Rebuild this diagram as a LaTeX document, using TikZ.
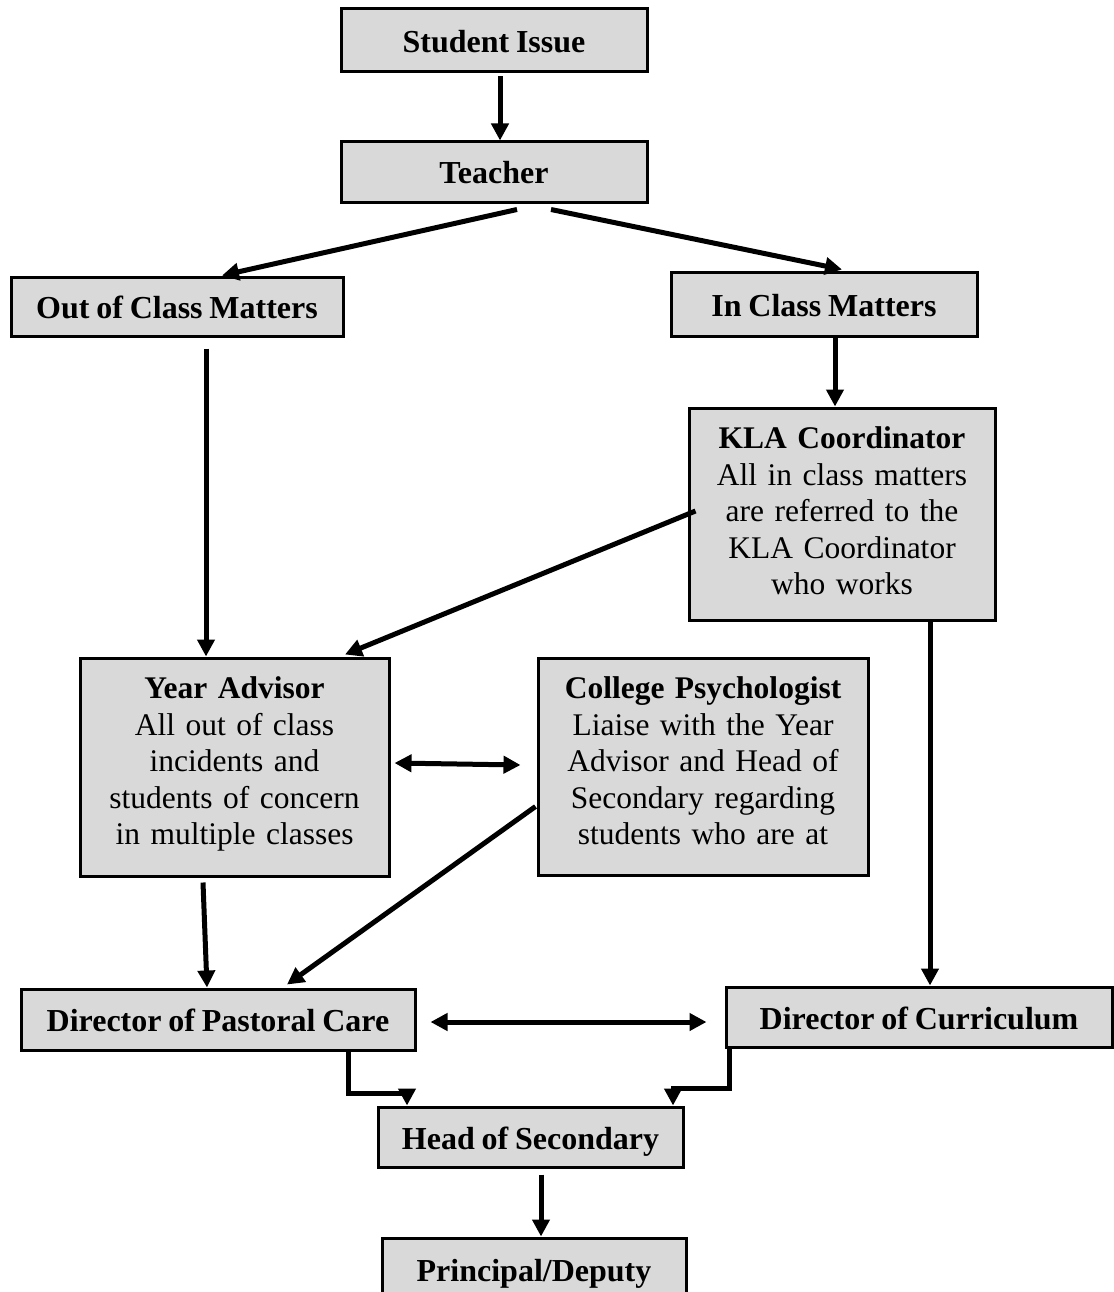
\documentclass[tikz,border=0pt]{standalone}
\usepackage{fontspec}
\setmainfont{Liberation Serif}[WordSpace=0.85]
\usetikzlibrary{arrows.meta,calc}
\definecolor{boxgray}{RGB}{217,217,217}
\tikzset{
  box/.style={draw=black, fill=boxgray, line width=3pt, inner sep=0pt, align=center,
    font=\fontsize{32}{36.5}\selectfont\bfseries, text height=24pt, text depth=0pt},
  bigbox/.style={draw=black, fill=boxgray, line width=3pt, inner sep=0pt},
  boxtext/.style={inner sep=0pt, align=center, anchor=north, text width=#1,
    font=\fontsize{31.5}{36.5}\selectfont},
  arr/.style={line width=5pt, line join=miter, -{Triangle[length=17pt,width=17pt]}},
  darr/.style={line width=5pt, {Triangle[length=17pt,width=17pt]}-{Triangle[length=17pt,width=17pt]}}
}
\begin{document}
\begin{tikzpicture}[x=1pt,y=-1pt]
\useasboundingbox[fill=white] (0,0) rectangle (1113,1292);
% single-line boxes
\node[box, minimum width=306pt, minimum height=63pt] (SI) at (494,40.5) {Student Issue};
\node[box, minimum width=306pt, minimum height=60pt] (T) at (494,172) {Teacher};
\node[box, minimum width=332pt, minimum height=59pt] (Out) at (177,306.5) {Out of Class Matters};
\node[box, minimum width=306pt, minimum height=64pt] (In) at (824,304) {In Class Matters};
\node[box, minimum width=394pt, minimum height=61pt] (DPC) at (218,1019.5) {Director of Pastoral Care};
\node[box, minimum width=386pt, minimum height=60pt] (DC) at (919,1017) {Director of Curriculum};
\node[box, minimum width=305pt, minimum height=60pt] (HoS) at (530.5,1137) {Head of Secondary};
\node[box, minimum width=304pt, minimum height=62pt] (PD) at (534,1269) {Principal/Deputy};
% multi-line boxes
\node[bigbox, minimum width=306pt, minimum height=212pt] (KLA) at (842,514) {};
\node[boxtext=300pt] (KLAt) at ($(KLA.north)+(0,20)$) {\textbf{KLA Coordinator}\\All in class matters\\are referred to the\\KLA Coordinator\\who works};
\node[bigbox, minimum width=309pt, minimum height=218pt] (YA) at (234.5,767) {};
\node[boxtext=305pt] (YAt) at ($(YA.north)+(0,20)$) {\textbf{Year Advisor}\\All out of class\\incidents and\\students of concern\\in multiple classes};
\node[bigbox, minimum width=330pt, minimum height=217pt] (Ps) at (703,766.5) {};
\node[boxtext=325pt] (Pst) at ($(Ps.north)+(0,20)$) {\textbf{College Psychologist}\\Liaise with the Year\\Advisor and Head of\\Secondary regarding\\students who are at};
% connectors
\draw[arr] ($(SI.south)+(6,3)$) -- ($(T.north)+(6,0)$);
\draw[arr] ($(T.south)+(23,6)$) -- ($(Out.north)+(45,0)$);
\draw[arr] ($(T.south)+(57,6)$) -- ($(In.north)+(18,-1)$);
\draw[arr] ($(Out.south)+(29,11)$) -- ($(YA.north)+(-28.5,0)$);
\draw[arr] ($(In.south)+(11,0)$) -- ($(KLA.north)+(-7,0)$);
\draw[arr] ($(KLA.west)+(8,-3)$) -- ($(YA.north)+(110.5,-2)$);
\draw[darr] ($(YA.east)+(4,-4)$) -- ($(Ps.west)+(-16,-1.5)$);
\draw[arr] ($(Ps.west)+(-1,40)$) -- ($(DPC.north)+(69,-3)$);
\draw[arr] ($(YA.south)+(-31.5,5)$) -- ($(DPC.north)+(-11,0)$);
\draw[arr] ($(KLA.south)+(88,0)$) -- ($(DC.north)+(11,0)$);
\draw[darr] ($(DPC.east)+(14,2.5)$) -- ($(DC.west)+(-18,5)$);
\draw[arr] ($(DPC.south)+(130,0)$) -- ++(0,42) -| ($(HoS.north)+(-123.5,0)$);
\draw[arr] ($(DC.south)+(-190,0)$) -- ++(0,40) -| ($(HoS.north)+(142.5,0)$);
\draw[arr] ($(HoS.south)+(10.5,6)$) -- ($(PD.north)+(7,0)$);
\end{tikzpicture}
\end{document}
